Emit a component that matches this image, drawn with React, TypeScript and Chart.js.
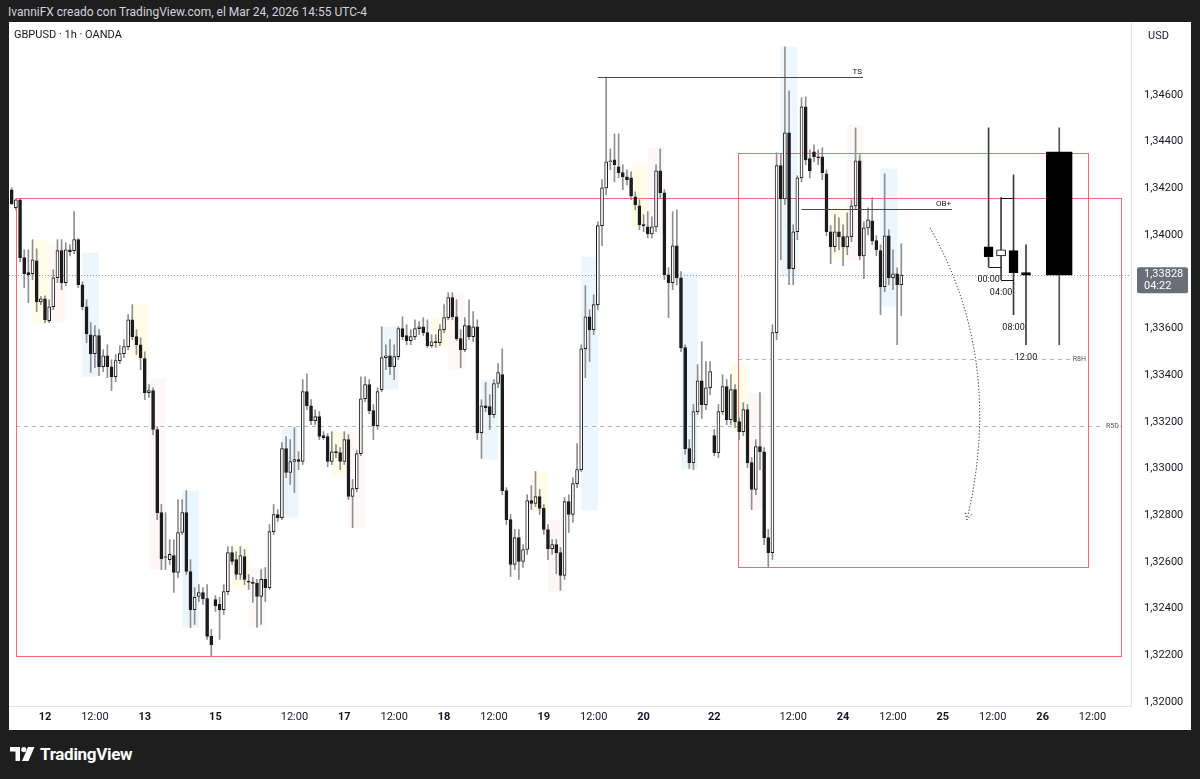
import React, { useEffect, useRef } from "react";
import { Chart, registerables } from "chart.js";

Chart.register(...registerables);

// ---------- 1h GBPUSD candles (11 Mar 16:00 .. 24 Mar 14:00, UTC-4) ----------
const openP = [
  1.34194, 1.34117, 1.34151, 1.33903, 1.33839, 1.33834, 1.33890, 1.33714, 1.33727, 1.33633,
  1.33693, 1.33817, 1.33933, 1.33796, 1.33937, 1.33933, 1.33980, 1.33787, 1.33693, 1.33573,
  1.33492, 1.33569, 1.33436, 1.33483, 1.33436, 1.33393, 1.33462, 1.33492, 1.33522, 1.33637,
  1.33565, 1.33530, 1.33471, 1.33325, 1.33334, 1.33167, 1.32811, 1.32619, 1.32610, 1.32627,
  1.32555, 1.32726, 1.32811, 1.32559, 1.32396, 1.32452, 1.32469, 1.32443, 1.32281, 1.32439,
  1.32418, 1.32396, 1.32473, 1.32640, 1.32610, 1.32546, 1.32623, 1.32516, 1.32512, 1.32508,
  1.32452, 1.32525, 1.32490, 1.32730, 1.32803, 1.32790, 1.33085, 1.32983, 1.33030, 1.33038,
  1.33030, 1.33329, 1.33269, 1.33205, 1.33222, 1.33141, 1.33137, 1.33030, 1.33072, 1.33068,
  1.33030, 1.33124, 1.32880, 1.32914, 1.33064, 1.33299, 1.33359, 1.33248, 1.33184, 1.33338,
  1.33475, 1.33483, 1.33436, 1.33479, 1.33599, 1.33569, 1.33548, 1.33565, 1.33599, 1.33607,
  1.33582, 1.33526, 1.33543, 1.33539, 1.33595, 1.33646, 1.33732, 1.33650, 1.33556, 1.33509,
  1.33612, 1.33565, 1.33607, 1.33154, 1.33269, 1.33265, 1.33231, 1.33364, 1.33402, 1.32905,
  1.32781, 1.32589, 1.32704, 1.32602, 1.32653, 1.32863, 1.32850, 1.32880, 1.32829, 1.32739,
  1.32657, 1.32674, 1.32640, 1.32542, 1.32858, 1.32803, 1.32935, 1.32995, 1.33513, 1.33650,
  1.33595, 1.33702, 1.34040, 1.34202, 1.34314, 1.34322, 1.34292, 1.34267, 1.34249, 1.34245,
  1.34164, 1.34125, 1.34044, 1.34035, 1.34005, 1.34035, 1.34275, 1.34181, 1.33830, 1.33796,
  1.33954, 1.33817, 1.33518, 1.33085, 1.33025, 1.33244, 1.33376, 1.33274, 1.33346, 1.33141,
  1.33068, 1.33244, 1.33351, 1.33209, 1.33338, 1.33201, 1.33158, 1.33252, 1.33025, 1.32910,
  1.33094, 1.33072, 1.32704, 1.32640, 1.33582, 1.34297, 1.34155, 1.34438, 1.33856, 1.34014,
  1.34245, 1.34549, 1.34327, 1.34356, 1.34335, 1.34335, 1.34262, 1.34014, 1.33950, 1.34014,
  1.33993, 1.33950, 1.33993, 1.34125, 1.34318, 1.33911, 1.34031, 1.34061, 1.33976, 1.33933,
  1.33779, 1.33997, 1.33817, 1.33834, 1.33787,
];
const highP = [
  1.34202, 1.34155, 1.34155, 1.33937, 1.33937, 1.33980, 1.33941, 1.33736, 1.33740, 1.33723,
  1.33851, 1.33980, 1.33980, 1.33967, 1.33958, 1.34100, 1.33984, 1.33800, 1.33723, 1.33625,
  1.33612, 1.33595, 1.33509, 1.33530, 1.33466, 1.33488, 1.33526, 1.33552, 1.33659, 1.33702,
  1.33595, 1.33560, 1.33500, 1.33359, 1.33346, 1.33179, 1.32846, 1.32811, 1.32696, 1.32696,
  1.32867, 1.32867, 1.32905, 1.32610, 1.32490, 1.32503, 1.32490, 1.32503, 1.32311, 1.32456,
  1.32448, 1.32503, 1.32666, 1.32666, 1.32644, 1.32666, 1.32653, 1.32546, 1.32533, 1.32525,
  1.32567, 1.32576, 1.32760, 1.32846, 1.32824, 1.33111, 1.33137, 1.33124, 1.33175, 1.33072,
  1.33381, 1.33406, 1.33295, 1.33252, 1.33244, 1.33158, 1.33150, 1.33158, 1.33102, 1.33090,
  1.33158, 1.33145, 1.32953, 1.33079, 1.33393, 1.33393, 1.33381, 1.33274, 1.33346, 1.33607,
  1.33530, 1.33552, 1.33530, 1.33607, 1.33650, 1.33616, 1.33595, 1.33637, 1.33629, 1.33646,
  1.33637, 1.33573, 1.33573, 1.33616, 1.33702, 1.33753, 1.33753, 1.33723, 1.33595, 1.33646,
  1.33723, 1.33672, 1.33637, 1.33295, 1.33368, 1.33316, 1.33381, 1.33449, 1.33513, 1.32918,
  1.32803, 1.32739, 1.32739, 1.32674, 1.32888, 1.32927, 1.32987, 1.32910, 1.32846, 1.32760,
  1.32696, 1.32696, 1.32662, 1.32876, 1.32888, 1.32961, 1.33107, 1.33530, 1.33783, 1.33680,
  1.33744, 1.34057, 1.34237, 1.34677, 1.34369, 1.34433, 1.34433, 1.34301, 1.34279, 1.34271,
  1.34185, 1.34151, 1.34087, 1.34100, 1.34078, 1.34301, 1.34369, 1.34194, 1.33860, 1.34100,
  1.34108, 1.33843, 1.33530, 1.33124, 1.33274, 1.33445, 1.33543, 1.33458, 1.33458, 1.33167,
  1.33274, 1.33402, 1.33381, 1.33402, 1.33359, 1.33218, 1.33282, 1.33274, 1.33047, 1.33124,
  1.33325, 1.33090, 1.32739, 1.33616, 1.34352, 1.34348, 1.34806, 1.34618, 1.34044, 1.34254,
  1.34588, 1.34592, 1.34365, 1.34386, 1.34365, 1.34374, 1.34279, 1.34040, 1.34087, 1.34074,
  1.34044, 1.34095, 1.34151, 1.34459, 1.34344, 1.34057, 1.34117, 1.34160, 1.33997, 1.33958,
  1.34262, 1.34023, 1.33937, 1.33860, 1.33963,
];
const lowP = [
  1.34130, 1.34108, 1.33886, 1.33774, 1.33710, 1.33809, 1.33672, 1.33702, 1.33625, 1.33625,
  1.33680, 1.33796, 1.33766, 1.33783, 1.33911, 1.33920, 1.33774, 1.33680, 1.33539, 1.33411,
  1.33432, 1.33398, 1.33415, 1.33389, 1.33334, 1.33372, 1.33449, 1.33475, 1.33509, 1.33552,
  1.33488, 1.33423, 1.33295, 1.33304, 1.33145, 1.32781, 1.32567, 1.32567, 1.32589, 1.32469,
  1.32533, 1.32717, 1.32546, 1.32319, 1.32332, 1.32430, 1.32418, 1.32268, 1.32195, 1.32388,
  1.32268, 1.32375, 1.32460, 1.32589, 1.32525, 1.32525, 1.32503, 1.32482, 1.32426, 1.32319,
  1.32332, 1.32430, 1.32482, 1.32717, 1.32773, 1.32781, 1.32961, 1.32931, 1.32897, 1.32995,
  1.33017, 1.33252, 1.33188, 1.33188, 1.33124, 1.33124, 1.33008, 1.33017, 1.33047, 1.32995,
  1.33017, 1.32867, 1.32747, 1.32901, 1.33055, 1.33286, 1.33235, 1.33124, 1.33167, 1.33329,
  1.33423, 1.33402, 1.33381, 1.33466, 1.33552, 1.33530, 1.33530, 1.33552, 1.33573, 1.33569,
  1.33518, 1.33518, 1.33518, 1.33526, 1.33582, 1.33637, 1.33637, 1.33548, 1.33432, 1.33500,
  1.33552, 1.33543, 1.33124, 1.33043, 1.33244, 1.33167, 1.33218, 1.33346, 1.32888, 1.32760,
  1.32537, 1.32567, 1.32525, 1.32576, 1.32632, 1.32824, 1.32837, 1.32803, 1.32717, 1.32610,
  1.32632, 1.32550, 1.32478, 1.32525, 1.32726, 1.32769, 1.32918, 1.32987, 1.33389, 1.33458,
  1.33573, 1.33680, 1.33954, 1.34172, 1.34279, 1.34228, 1.34245, 1.34194, 1.34215, 1.34151,
  1.34108, 1.34023, 1.34014, 1.33988, 1.33988, 1.34014, 1.34160, 1.33809, 1.33646, 1.33766,
  1.33787, 1.33500, 1.33060, 1.33000, 1.32995, 1.33231, 1.33214, 1.33252, 1.33316, 1.33055,
  1.33047, 1.33231, 1.33188, 1.33188, 1.33175, 1.33124, 1.33141, 1.33004, 1.32824, 1.32888,
  1.32995, 1.32674, 1.32580, 1.32610, 1.33552, 1.33894, 1.34130, 1.33787, 1.33787, 1.33980,
  1.34228, 1.34301, 1.34245, 1.34314, 1.34301, 1.34237, 1.33997, 1.33877, 1.33928, 1.33937,
  1.33869, 1.33916, 1.33971, 1.34108, 1.33894, 1.33813, 1.34001, 1.33958, 1.33911, 1.33659,
  1.33757, 1.33787, 1.33766, 1.33530, 1.33655,
];
const closeP = [
  1.34134, 1.34151, 1.33903, 1.33834, 1.33830, 1.33894, 1.33714, 1.33727, 1.33637, 1.33693,
  1.33817, 1.33933, 1.33796, 1.33937, 1.33928, 1.33980, 1.33787, 1.33693, 1.33577, 1.33492,
  1.33569, 1.33436, 1.33483, 1.33436, 1.33393, 1.33462, 1.33492, 1.33522, 1.33637, 1.33565,
  1.33530, 1.33475, 1.33325, 1.33334, 1.33167, 1.32811, 1.32614, 1.32623, 1.32632, 1.32555,
  1.32726, 1.32811, 1.32559, 1.32396, 1.32448, 1.32469, 1.32443, 1.32281, 1.32246, 1.32413,
  1.32396, 1.32473, 1.32640, 1.32602, 1.32546, 1.32627, 1.32525, 1.32513, 1.32508, 1.32452,
  1.32525, 1.32490, 1.32730, 1.32803, 1.32790, 1.33085, 1.32983, 1.33030, 1.33038, 1.33030,
  1.33329, 1.33269, 1.33205, 1.33222, 1.33137, 1.33132, 1.33030, 1.33072, 1.33068, 1.33030,
  1.33124, 1.32880, 1.32914, 1.33064, 1.33299, 1.33359, 1.33248, 1.33184, 1.33329, 1.33475,
  1.33483, 1.33436, 1.33479, 1.33599, 1.33565, 1.33548, 1.33565, 1.33599, 1.33607, 1.33582,
  1.33526, 1.33543, 1.33539, 1.33595, 1.33646, 1.33732, 1.33650, 1.33556, 1.33509, 1.33612,
  1.33565, 1.33607, 1.33154, 1.33269, 1.33261, 1.33231, 1.33364, 1.33411, 1.32905, 1.32781,
  1.32589, 1.32704, 1.32602, 1.32653, 1.32863, 1.32850, 1.32880, 1.32829, 1.32739, 1.32657,
  1.32674, 1.32640, 1.32542, 1.32858, 1.32803, 1.32935, 1.32995, 1.33513, 1.33650, 1.33595,
  1.33702, 1.34040, 1.34202, 1.34314, 1.34318, 1.34301, 1.34267, 1.34249, 1.34237, 1.34168,
  1.34130, 1.34044, 1.34040, 1.34005, 1.34035, 1.34275, 1.34181, 1.33830, 1.33796, 1.33954,
  1.33817, 1.33518, 1.33085, 1.33025, 1.33244, 1.33376, 1.33274, 1.33346, 1.33415, 1.33068,
  1.33244, 1.33351, 1.33209, 1.33338, 1.33201, 1.33158, 1.33252, 1.33025, 1.32910, 1.33094,
  1.33072, 1.32704, 1.32640, 1.33582, 1.34297, 1.34155, 1.34438, 1.33856, 1.34014, 1.34245,
  1.34549, 1.34322, 1.34275, 1.34335, 1.34331, 1.34267, 1.34014, 1.33950, 1.34014, 1.33993,
  1.33950, 1.33993, 1.34125, 1.34318, 1.33911, 1.34031, 1.34065, 1.33976, 1.33937, 1.33779,
  1.33997, 1.33817, 1.33834, 1.33787, 1.33828,
];

// ---------- higher-timeframe projection (4h + daily) ----------
const htfSlot = [235, 238, 241, 244];
const htfLabels = ["00:00", "04:00", "08:00", "12:00"];
const htfOpen = [1.3395, 1.33911, 1.33933, 1.33839];
const htfHigh = [1.34459, 1.3416, 1.34258, 1.33958];
const htfLow = [1.33864, 1.33809, 1.33659, 1.3353];
const htfClose = [1.33907, 1.33937, 1.33839, 1.33828];
const daySlot = [252];
const dayOpen = [1.34356];
const dayHigh = [1.34459];
const dayLow = [1.3353];
const dayClose = [1.33828];

// ---------- axes ----------
const xTickIdx = [8, 20, 32, 49, 68, 80, 92, 104, 116, 128, 140, 152, 169, 188, 200, 212, 224, 236, 248, 260];
const xTickLabels = ["12", "12:00", "13", "15", "12:00", "17", "12:00", "18", "12:00", "19", "12:00", "20", "22", "12:00", "24", "12:00", "25", "12:00", "26", "12:00"];
const yTickValues = [1.32, 1.322, 1.324, 1.326, 1.328, 1.33, 1.332, 1.334, 1.336, 1.338, 1.34, 1.342, 1.344, 1.346];
const xView = [-0.66, 269.26];
const yView = [1.319829, 1.349124];

// ---------- session highlight boxes ----------
const sessionSpan = 4;
const sessionStart = [5, 9, 17, 29, 33, 41, 53, 57, 65, 77, 81, 89, 101, 105, 113, 125, 129, 137, 149, 153, 161, 173, 177, 185, 197, 201, 209];
const sessionKind = ["y", "p", "b", "y", "p", "b", "y", "p", "b", "y", "p", "b", "y", "p", "b", "y", "p", "b", "y", "p", "b", "y", "p", "b", "y", "p", "b"];
const sessionHigh = [1.3398, 1.33958, 1.33924, 1.33706, 1.33385, 1.32905, 1.32666, 1.32576, 1.33179, 1.33158, 1.33158, 1.33607, 1.33646, 1.33753, 1.33381, 1.32987, 1.32781, 1.33907, 1.34301, 1.34374, 1.33839, 1.33445, 1.33325, 1.34806, 1.34121, 1.34472, 1.34284];
const sessionLow = [1.33625, 1.33625, 1.33393, 1.33466, 1.32567, 1.32319, 1.3249, 1.32319, 1.3279, 1.32966, 1.32743, 1.33338, 1.33518, 1.33423, 1.33038, 1.32811, 1.32469, 1.3282, 1.34035, 1.34001, 1.32995, 1.33154, 1.32824, 1.33822, 1.33903, 1.33894, 1.33693];

// ---------- drawn zones & levels ----------
const zoneFrom = [1, 174.7];
const zoneTo = [266.8, 258.9];
const zoneTop = [1.3416, 1.34352];
const zoneBottom = [1.32195, 1.3258];

const levelName = ["TS", "OB+", "R8H", "R5D"];
const levelPrice = [1.34677, 1.34113, 1.33471, 1.3318];
const levelFrom = [141, 190, 174.7, 1];
const levelTo = [204.8, 226.2, 258.9, 266.8];
const levelDashed = [false, false, true, true];

const arrowIdx = [220.9, 238.9, 229.8];
const arrowPrice = [1.34031, 1.33466, 1.32781];

const lastPrice = 1.33828;
const countdown = "04:22";

const FONT = "Roboto, 'Liberation Sans', sans-serif";
const BEAR = "#1c1c1c";

const sessionColor: Record<string, string> = {
  b: "rgba(33,150,243,0.085)",
  y: "rgba(255,235,59,0.12)",
  p: "rgba(242,54,69,0.04)",
};

const fmtPrice = (v: number) => Number(v).toFixed(5).replace(".", ",");

const overlayPlugin = {
  id: "overlay",
  beforeDatasetsDraw(chart: any) {
    const { ctx, chartArea: a, scales } = chart;
    const xs = scales.x;
    const ys = scales.y;
    ctx.save();
    ctx.beginPath();
    ctx.rect(a.left, a.top, a.right - a.left, a.bottom - a.top);
    ctx.clip();
    // sessions
    sessionStart.forEach((s, k) => {
      const x1 = xs.getPixelForValue(s);
      const x2 = xs.getPixelForValue(s + sessionSpan);
      const y1 = ys.getPixelForValue(sessionHigh[k]);
      const y2 = ys.getPixelForValue(sessionLow[k]);
      ctx.fillStyle = sessionColor[sessionKind[k]];
      ctx.fillRect(x1, y1, x2 - x1, y2 - y1);
    });
    // dashed levels
    ctx.lineWidth = 1;
    levelName.forEach((n, k) => {
      if (!levelDashed[k]) return;
      const y = Math.round(ys.getPixelForValue(levelPrice[k])) + 0.5;
      ctx.strokeStyle = "#b2b5be";
      ctx.setLineDash([4, 4]);
      ctx.beginPath();
      ctx.moveTo(xs.getPixelForValue(levelFrom[k]), y);
      ctx.lineTo(xs.getPixelForValue(levelTo[k]), y);
      ctx.stroke();
    });
    // last price dotted line
    const py = Math.round(ys.getPixelForValue(lastPrice)) + 0.5;
    ctx.strokeStyle = "#9598a1";
    ctx.setLineDash([1, 2]);
    ctx.beginPath();
    ctx.moveTo(a.left, py);
    ctx.lineTo(a.right, py);
    ctx.stroke();
    ctx.setLineDash([]);
    // zones
    ctx.strokeStyle = "rgba(242,54,69,0.75)";
    zoneFrom.forEach((f, k) => {
      const x1 = Math.round(xs.getPixelForValue(f)) + 0.5;
      const x2 = Math.round(xs.getPixelForValue(zoneTo[k])) + 0.5;
      const y1 = Math.round(ys.getPixelForValue(zoneTop[k])) + 0.5;
      const y2 = Math.round(ys.getPixelForValue(zoneBottom[k])) + 0.5;
      ctx.strokeRect(x1, y1, x2 - x1, y2 - y1);
    });
    ctx.restore();
  },
  afterDatasetsDraw(chart: any) {
    const { ctx, chartArea: a, scales } = chart;
    const xs = scales.x;
    const ys = scales.y;
    ctx.save();
    ctx.beginPath();
    ctx.rect(a.left, a.top, a.right - a.left, a.bottom - a.top);
    ctx.clip();
    // solid levels + labels
    levelName.forEach((n, k) => {
      const y = Math.round(ys.getPixelForValue(levelPrice[k])) + 0.5;
      const x1 = xs.getPixelForValue(levelFrom[k]);
      const x2 = xs.getPixelForValue(levelTo[k]);
      if (!levelDashed[k]) {
        ctx.strokeStyle = "#4a4a4a";
        ctx.lineWidth = 1;
        ctx.beginPath();
        ctx.moveTo(x1, y);
        ctx.lineTo(x2, y);
        ctx.stroke();
        ctx.fillStyle = "#131722";
        ctx.font = `8px ${FONT}`;
        ctx.textAlign = "right";
        ctx.textBaseline = "bottom";
        ctx.fillText(n, x2 - 1, y - 2);
      } else {
        ctx.font = `7px ${FONT}`;
        const w = ctx.measureText(n).width;
        ctx.fillStyle = "#ffffff";
        ctx.fillRect(x2 - w - 4, y - 5, w + 3, 10);
        ctx.fillStyle = "#50535e";
        ctx.textAlign = "right";
        ctx.textBaseline = "middle";
        ctx.fillText(n, x2 - 2, y);
      }
    });
    // HTF connectors
    const hx = htfSlot.map((s) => xs.getPixelForValue(s));
    const hy = (p: number) => Math.round(ys.getPixelForValue(p)) + 0.5;
    ctx.strokeStyle = "#131722";
    ctx.lineWidth = 1;
    ctx.beginPath();
    ctx.moveTo(hx[0], hy(htfLow[0]));
    ctx.lineTo(hx[1], hy(htfLow[0]));
    ctx.moveTo(hx[1], hy(htfHigh[1]));
    ctx.lineTo(hx[2], hy(htfHigh[1]));
    ctx.moveTo(hx[1], hy(htfLow[1]));
    ctx.lineTo(hx[2], hy(htfLow[1]));
    ctx.stroke();
    // HTF labels
    ctx.fillStyle = "#131722";
    ctx.font = `9px ${FONT}`;
    ctx.textAlign = "center";
    ctx.textBaseline = "middle";
    htfLabels.forEach((l, k) => {
      ctx.fillText(l, hx[k], ys.getPixelForValue(htfLow[k]) + 13);
    });
    // curved dotted arrow
    const p0 = [xs.getPixelForValue(arrowIdx[0]), ys.getPixelForValue(arrowPrice[0])];
    const pc = [xs.getPixelForValue(arrowIdx[1]), ys.getPixelForValue(arrowPrice[1])];
    const p1 = [xs.getPixelForValue(arrowIdx[2]), ys.getPixelForValue(arrowPrice[2])];
    ctx.strokeStyle = "#131722";
    ctx.setLineDash([1.2, 2]);
    ctx.beginPath();
    ctx.moveTo(p0[0], p0[1]);
    ctx.quadraticCurveTo(pc[0], pc[1], p1[0], p1[1]);
    ctx.stroke();
    const ang = Math.atan2(p1[1] - pc[1], p1[0] - pc[0]);
    ctx.beginPath();
    ctx.moveTo(p1[0] - 7 * Math.cos(ang - 0.5), p1[1] - 7 * Math.sin(ang - 0.5));
    ctx.lineTo(p1[0], p1[1]);
    ctx.lineTo(p1[0] - 7 * Math.cos(ang + 0.5), p1[1] - 7 * Math.sin(ang + 0.5));
    ctx.stroke();
    ctx.setLineDash([]);
    ctx.restore();
  },
  afterDraw(chart: any) {
    const { ctx, chartArea: a, scales } = chart;
    const ys = scales.y;
    ctx.save();
    // USD header of price scale
    ctx.fillStyle = "#131722";
    ctx.font = `11px ${FONT}`;
    ctx.textAlign = "left";
    ctx.textBaseline = "middle";
    ctx.fillText("USD", a.right + 17, a.top + 14);
    // last price label
    const py = ys.getPixelForValue(lastPrice);
    const bx = a.right + 6;
    const bw = 51;
    const top = py - 8;
    const bh = 26;
    ctx.fillStyle = "#6b6e78";
    ctx.beginPath();
    ctx.roundRect(bx, top, bw, bh, 2);
    ctx.fill();
    ctx.fillStyle = "#ffffff";
    ctx.font = `11px ${FONT}`;
    ctx.fillText(fmtPrice(lastPrice), a.right + 13, py - 1);
    ctx.fillText(countdown, a.right + 13, py + 11);
    ctx.restore();
  },
};

export default function App() {
  const ref = useRef<HTMLCanvasElement>(null);

  useEffect(() => {
    document.body.style.margin = "0";
    const idx = openP.map((_, i) => i);
    const chart = new Chart(ref.current as HTMLCanvasElement, {
      type: "bar",
      data: {
        datasets: [
          {
            data: idx.map((i) => ({ x: i, y: [lowP[i], highP[i]] })) as any,
            backgroundColor: "#8f8f8f",
            borderWidth: 0,
            barThickness: 1,
            grouped: false,
            order: 5,
          } as any,
          {
            data: idx.map((i) => ({ x: i, y: [openP[i], closeP[i]] })) as any,
            backgroundColor: idx.map((i) => (closeP[i] >= openP[i] ? "#ffffff" : BEAR)),
            borderColor: BEAR,
            borderWidth: 1,
            borderSkipped: false,
            barThickness: 3,
            minBarLength: 1,
            grouped: false,
            order: 4,
          } as any,
          {
            data: htfSlot.map((s, k) => ({ x: s, y: [htfLow[k], htfHigh[k]] })) as any,
            backgroundColor: "#3a3a3a",
            borderWidth: 0,
            barThickness: 1,
            grouped: false,
            order: 3,
          } as any,
          {
            data: htfSlot.map((s, k) => ({ x: s, y: [htfOpen[k], htfClose[k]] })) as any,
            backgroundColor: htfSlot.map((_, k) => (htfClose[k] >= htfOpen[k] ? "#ffffff" : "#000000")),
            borderColor: "#000000",
            borderWidth: 1,
            borderSkipped: false,
            barThickness: 9,
            minBarLength: 2,
            grouped: false,
            order: 2,
          } as any,
          {
            data: daySlot.map((s, k) => ({ x: s, y: [dayLow[k], dayHigh[k]] })) as any,
            backgroundColor: "#555555",
            borderWidth: 0,
            barThickness: 1,
            grouped: false,
            order: 1,
          } as any,
          {
            data: daySlot.map((s, k) => ({ x: s, y: [dayOpen[k], dayClose[k]] })) as any,
            backgroundColor: daySlot.map((_, k) => (dayClose[k] >= dayOpen[k] ? "#ffffff" : "#000000")),
            borderColor: "#000000",
            borderWidth: 1,
            borderSkipped: false,
            barThickness: 26,
            grouped: false,
            order: 0,
          } as any,
        ],
      },
      options: {
        responsive: false,
        animation: false,
        devicePixelRatio: 1,
        events: [],
        layout: { padding: 0 },
        plugins: { legend: { display: false }, tooltip: { enabled: false } },
        scales: {
          x: {
            type: "linear",
            min: xView[0],
            max: xView[1],
            offset: false,
            grid: { display: false, drawTicks: false },
            border: { display: true, color: "#e0e3eb" },
            ticks: {
              autoSkip: false,
              maxRotation: 0,
              minRotation: 0,
              padding: 5,
              color: "#131722",
              font: (c: any) => ({
                size: 11,
                family: FONT,
                weight: (xTickLabels[c.index] || "").includes(":") ? "normal" : "bold",
              }),
              callback: (_v: any, i: number) => xTickLabels[i],
            },
            afterBuildTicks: (s: any) => {
              s.ticks = xTickIdx.map((v) => ({ value: v }));
            },
            afterFit: (s: any) => {
              s.height = 24;
              s.paddingLeft = 0;
              s.paddingRight = 0;
            },
          } as any,
          y: {
            type: "linear",
            position: "right",
            min: yView[0],
            max: yView[1],
            grid: { display: false, drawTicks: false },
            border: { display: true, color: "#e0e3eb" },
            ticks: {
              padding: 13,
              color: "#131722",
              font: { size: 11, family: FONT },
              callback: (v: any) => fmtPrice(v),
            },
            afterBuildTicks: (s: any) => {
              s.ticks = yTickValues.map((v) => ({ value: v }));
            },
            afterFit: (s: any) => {
              s.width = 60;
              s.paddingTop = 0;
              s.paddingBottom = 0;
            },
          } as any,
        },
      },
      plugins: [overlayPlugin as any],
    });
    return () => chart.destroy();
  }, []);

  return (
    <div
      style={{
        position: "fixed",
        left: 0,
        top: 0,
        width: 1200,
        height: 779,
        background: "#1e1e1e",
        overflow: "hidden",
        fontFamily: FONT,
      }}
    >
      <div style={{ position: "absolute", left: 8, top: 4, fontSize: 12, lineHeight: "16px", color: "#d1d4dc" }}>
        IvanniFX creado con TradingView.com, el Mar 24, 2026 14:55 UTC-4
      </div>
      <div style={{ position: "absolute", left: 9, top: 22, width: 1182, height: 708, background: "#ffffff" }}>
        <canvas ref={ref} width={1182} height={708} style={{ display: "block", width: 1182, height: 708 }} />
        <div style={{ position: "absolute", left: 5, top: 6, fontSize: 11, lineHeight: "14px", color: "#131722" }}>
          GBPUSD · 1h · OANDA
        </div>
      </div>
      <div style={{ position: "absolute", left: 10, top: 745, display: "flex", alignItems: "center", gap: 5 }}>
        <svg width="25" height="16" viewBox="0 0 25 16">
          <path d="M0 1h10v14H5.5V5.5H0z" fill="#ffffff" />
          <circle cx="13.8" cy="3.6" r="2.6" fill="#ffffff" />
          <path d="M18 1h6.5L18.5 15H12z" fill="#ffffff" />
        </svg>
        <span style={{ color: "#ffffff", fontSize: 17, fontWeight: 700, letterSpacing: -0.3, lineHeight: "18px" }}>
          TradingView
        </span>
      </div>
    </div>
  );
}
